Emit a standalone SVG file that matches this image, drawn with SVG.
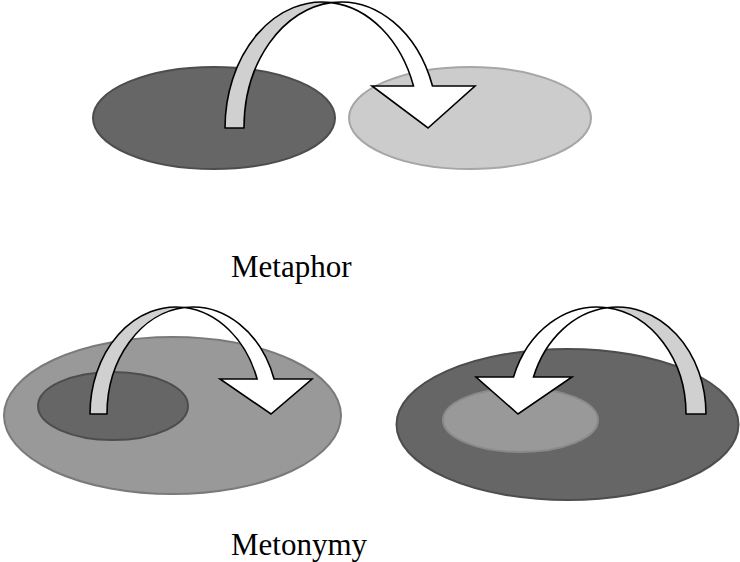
<svg xmlns="http://www.w3.org/2000/svg" width="740" height="562" viewBox="0 0 740 562">
<style>
.dark{fill:#666666;stroke:#4d4d4d;stroke-width:2}
.mid{fill:#999999;stroke:#7a7a7a;stroke-width:2}
.light{fill:#cccccc;stroke:#a6a6a6;stroke-width:2}
.back{fill:#d0d0d0;stroke:#000;stroke-width:1.6;stroke-linejoin:round}
.front{fill:#ffffff;stroke:#000;stroke-width:1.6;stroke-linejoin:miter}
.label{font-family:"Liberation Serif","Times New Roman",serif;font-size:31px;fill:#000}
</style>
<rect width="740" height="562" fill="#ffffff"/>
<g id="metaphor-source"><ellipse class="dark" cx="214" cy="118" rx="121" ry="51"/></g>
<g id="metaphor-target"><ellipse class="light" cx="470" cy="118" rx="121" ry="51"/></g>
<g id="metonymy1-whole"><ellipse class="mid" cx="172.5" cy="415.5" rx="168.5" ry="78.5"/></g>
<g id="metonymy1-part"><ellipse class="dark" cx="113" cy="406" rx="75" ry="34"/></g>
<g id="metonymy2-whole"><ellipse class="dark" cx="567.5" cy="424.5" rx="171" ry="75.5"/></g>
<g id="metonymy2-part"><ellipse class="mid" cx="520.5" cy="420" rx="77.5" ry="32" style="stroke:#8a8a8a"/></g>
<g id="connectors">
  <path class="back" d="M225,128 A97 126 0 0 1 331.5,2.6 A97 126 0 0 0 244,128 Z"/>
  <path class="front" d="M331.5,2.6 A97 126 0 0 1 432.5,86 L475,86 L428,128 L372,86 L413.5,86 A97 126 0 0 0 331.5,2.6 Z"/>
  <path class="back" d="M90,414 A85.9 107 0 0 1 184.4,307.5 A85.9 107 0 0 0 107,414 Z"/>
  <path class="front" d="M184.4,307.5 A85.9 107 0 0 1 274.1,379 L312,379 L271,414 L220,379 L257.1,379 A85.9 107 0 0 0 184.4,307.5 Z"/>
  <path class="back" d="M706,414 A89 107 0 0 0 607,307.7 A89 107 0 0 1 686,414 Z"/>
  <path class="front" d="M607,307.7 A89 107 0 0 0 513.5,377 L476,377 L518,414 L572,377 L533.5,377 A89 107 0 0 1 607,307.7 Z"/>
</g>
<g id="labels">
  <text class="label" x="231" y="277">Metaphor</text>
  <text class="label" x="231" y="555">Metonymy</text>
</g>
</svg>
